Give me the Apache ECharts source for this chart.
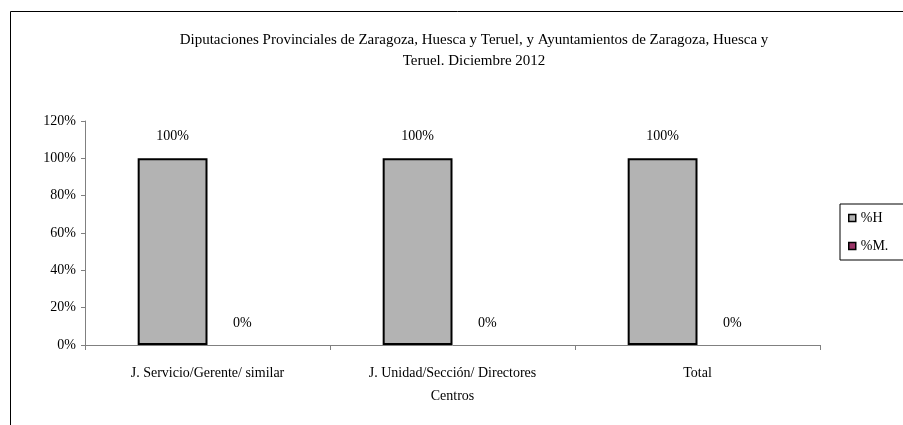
<!DOCTYPE html>
<html>
<head>
<meta charset="utf-8">
<script src="https://cdn.jsdelivr.net/npm/echarts@6/dist/echarts.min.js"></script>
<style>
  html, body { margin: 0; padding: 0; background: #fff; }
  #chart { width: 903px; height: 425px; }
</style>
</head>
<body>
<div id="chart"></div>
<script>
const categories = ['J. Servicio/Gerente/ similar', 'J. Unidad/Sección/ Directores\nCentros', 'Total']
const seriesNames = ['%H', '%M.']
const hValues = [100, 100, 100]
const mValues = [0, 0, 0]
const titleText = 'Diputaciones Provinciales de Zaragoza, Huesca y Teruel, y Ayuntamientos de Zaragoza, Huesca y\nTeruel. Diciembre 2012'

const font = 'Liberation Serif'
const colorH = '#b3b3b3'
const colorM = '#993366'

const chart = echarts.init(document.getElementById('chart'))

// etiqueta encima de la barra
const barLabel = {
  show: true,
  position: 'top',
  distance: 15,
  formatter: '{c}%',
  fontFamily: font,
  fontSize: 14,
  color: '#000'
}

chart.setOption({
  backgroundColor: '#fff',
  animation: false,
  title: {
    text: titleText,
    left: 469,
    top: 25,
    textAlign: 'center',
    textStyle: {
      fontFamily: font,
      fontSize: 15,
      fontWeight: 'normal',
      color: '#000',
      lineHeight: 21
    }
  },
  graphic: [
    {
      type: 'rect',
      shape: {x: 10.5, y: 11.5, width: 1000, height: 1000},
      style: {fill: 'none', stroke: '#000', lineWidth: 1},
      silent: true
    }
  ],
  legend: {
    data: [
      {name: seriesNames[0], itemStyle: {color: colorH, borderColor: '#000', borderWidth: 1.5}},
      {name: seriesNames[1], itemStyle: {color: colorM, borderColor: '#000', borderWidth: 1.5}}
    ],
    orient: 'vertical',
    left: 840,
    top: 204,
    padding: [7, 50, 7, 8],
    itemGap: 14,
    itemWidth: 7,
    itemHeight: 7,
    icon: 'rect',
    borderColor: '#000',
    borderWidth: 1,
    textStyle: {
      fontFamily: font,
      fontSize: 14,
      color: '#000'
    }
  },
  grid: {
    left: 85,
    right: 83,
    top: 121,
    bottom: 80
  },
  xAxis: {
    type: 'category',
    data: categories,
    axisLine: {lineStyle: {color: '#808080'}},
    axisTick: {show: true, length: 5, lineStyle: {color: '#808080'}},
    axisLabel: {
      interval: 0,
      margin: 17,
      fontFamily: font,
      fontSize: 14,
      color: '#000',
      lineHeight: 23
    }
  },
  yAxis: {
    type: 'value',
    min: 0,
    max: 120,
    interval: 20,
    axisLine: {show: true, lineStyle: {color: '#808080'}},
    axisTick: {show: true, length: 4, lineStyle: {color: '#808080'}},
    splitLine: {show: false},
    axisLabel: {
      formatter: '{value}%',
      margin: 9,
      fontFamily: font,
      fontSize: 14,
      color: '#000'
    }
  },
  series: [
    {
      name: seriesNames[0],
      type: 'bar',
      data: hValues,
      barGap: '0%',
      barCategoryGap: '43%',
      itemStyle: {color: colorH, borderColor: '#000', borderWidth: 2},
      label: barLabel
    },
    {
      name: seriesNames[1],
      type: 'bar',
      data: mValues,
      // valores cero: sin borde para que no se dibuje una linea sobre el eje
      itemStyle: {color: colorM, borderWidth: 0},
      label: barLabel
    }
  ]
})
</script>
</body>
</html>
